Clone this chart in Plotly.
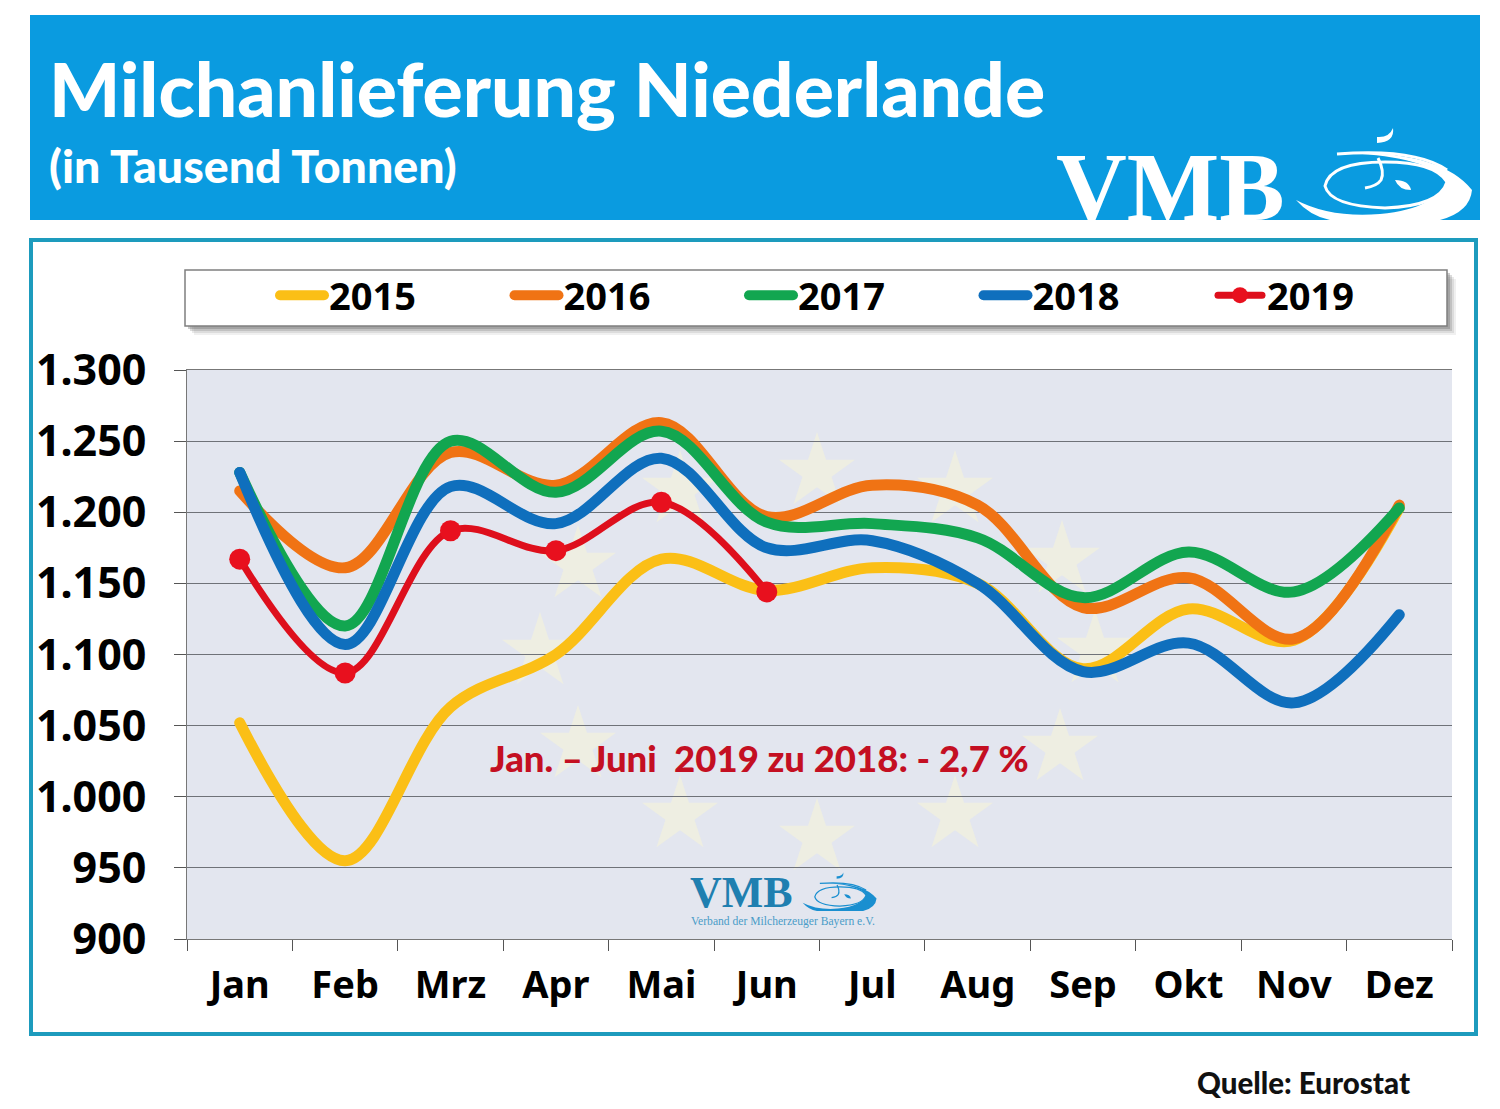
import plotly.graph_objects as go

W = 1500
H = 1109

months = ["Jan", "Feb", "Mrz", "Apr", "Mai", "Jun", "Jul", "Aug", "Sep", "Okt", "Nov", "Dez"]
v2015 = [1052, 955, 1063, 1100, 1167, 1145, 1161, 1150, 1090, 1132, 1110, 1203]
v2016 = [1215, 1161, 1242, 1219, 1263, 1197, 1219, 1205, 1133, 1154, 1111, 1205]
v2017 = [1228, 1120, 1250, 1214, 1257, 1193, 1192, 1182, 1140, 1172, 1144, 1203]
v2018 = [1228, 1107, 1218, 1192, 1238, 1175, 1180, 1150, 1088, 1108, 1066, 1128]
v2019 = [1167, 1087, 1187, 1173, 1207, 1144]
y_ticks = [900, 950, 1000, 1050, 1100, 1150, 1200, 1250, 1300]

star_centers = [(817, 472), (955, 490), (1062, 560), (1095, 650), (1060, 748), (955, 815),
                (817, 838), (680, 815), (578, 745), (540, 652), (578, 565), (680, 490)]

BLUE = "#0a9be0"
TEAL = "#1d9bbd"
TEXT_FONT = "Lato"
AXIS_FONT = "Noto Sans"


def px(x):
    return x / W


def py(y):
    return 1 - y / H


def path(points):
    """Closed or open svg path from pixel commands, e.g. [('M', 1, 2), ('Q', 1, 2, 3, 4)]."""
    out = []
    for cmd in points:
        if cmd[0] == "Z":
            out.append("Z")
            continue
        coords = []
        for i in range(1, len(cmd), 2):
            coords.append(f"{px(cmd[i]):.5f},{py(cmd[i + 1]):.5f}")
        out.append(cmd[0] + " ".join(coords))
    return " ".join(out)


def rect(x0, y0, x1, y1, **kw):
    return dict(type="rect", xref="paper", yref="paper", x0=px(x0), x1=px(x1), y0=py(y0), y1=py(y1),
                layer="below", **kw)


def star_path(cx, cy, r):
    # five pointed star, pixel space
    outer = [(0, -1), (0.951, -0.309), (0.588, 0.809), (-0.588, 0.809), (-0.951, -0.309)]
    inner = [(0.225, -0.309), (0.363, 0.118), (0, 0.382), (-0.363, 0.118), (-0.225, -0.309)]
    cmds = []
    for i in range(5):
        cmds.append(("M" if i == 0 else "L", cx + outer[i][0] * r, cy + outer[i][1] * r))
        cmds.append(("L", cx + inner[i][0] * r, cy + inner[i][1] * r))
    cmds.append(("Z",))
    return path(cmds)


def logo_shapes(ox, oy, s, color, bg):
    # swoosh of the VMB logo, drawn around origin ox/oy
    def p(x, y):
        return ox + x * s, oy + y * s

    shapes = []
    fill = [
        ("M", *p(-45, -31)), ("Q", *p(55, -34), *p(87, 6)), ("Q", *p(85, 28), *p(55, 36)),
        ("L", *p(-55, 36)), ("Q", *p(-75, 32), *p(-89, 16)), ("Q", *p(-55, 34), *p(-5, 30)),
        ("Q", *p(55, 24), *p(60, -6)), ("Q", *p(35, -29), *p(-45, -31)), ("Z",),
    ]
    shapes.append(dict(type="path", xref="paper", yref="paper", path=path(fill),
                       fillcolor=color, line_width=0, layer="below"))
    ring = [
        ("M", *p(-60, 2)), ("Q", *p(-55, -22), *p(0, -22)), ("Q", *p(50, -22), *p(62, -2)),
        ("Q", *p(55, 22), *p(0, 24)), ("Q", *p(-55, 22), *p(-60, 2)), ("Z",),
    ]
    shapes.append(dict(type="path", xref="paper", yref="paper", path=path(ring),
                       fillcolor=bg, line=dict(color=color, width=max(1, 3 * s)), layer="below"))
    shapes.append(dict(type="path", xref="paper", yref="paper", layer="below", fillcolor="rgba(0,0,0,0)",
                       path=path([("M", *p(-48, -30)), ("Q", *p(30, -36), *p(62, -14))]),
                       line=dict(color=color, width=max(1, 3 * s))))
    # note glyph in the middle
    shapes.append(dict(type="path", xref="paper", yref="paper", layer="below", fillcolor="rgba(0,0,0,0)",
                       path=path([("M", *p(-7, -26)), ("Q", *p(0, -12), *p(-4, -4)), ("Q", *p(-8, 2), *p(-20, 4))]),
                       line=dict(color=color, width=max(1, 3 * s))))
    shapes.append(dict(type="path", xref="paper", yref="paper", layer="below", fillcolor=color, line_width=0,
                       path=path([("M", *p(10, -4)), ("Q", *p(24, -4), *p(26, 6)), ("Q", *p(14, 6), *p(10, -4)), ("Z",)])))
    shapes.append(dict(type="path", xref="paper", yref="paper", layer="below", fillcolor=color, line_width=0,
                       path=path([("M", *p(-8, -47)), ("Q", *p(4, -46), *p(8, -56)), ("Q", *p(10, -42), *p(-8, -41)), ("Z",)])))
    return shapes


shapes = [
    rect(30, 15, 1480, 220, fillcolor=BLUE, line_width=0),
    rect(31, 240, 1476, 1034, fillcolor="white", line=dict(color=TEAL, width=4)),
    rect(187, 370, 1452, 939, fillcolor="#e3e6ef", line_width=0),
]
# legend box with soft shadow
for off, alpha in [(9, 0.10), (7, 0.15), (5, 0.25), (3, 0.35)]:
    shapes.append(rect(185 + off, 270 + off, 1447 + off, 326 + off, fillcolor=f"rgba(110,110,110,{alpha})", line_width=0))
shapes.append(rect(185, 270, 1447, 326, fillcolor="white", line=dict(color="#7f7f7f", width=1.5)))
for cx, cy in star_centers:
    shapes.append(dict(type="path", xref="paper", yref="paper", layer="below", path=star_path(cx, cy, 40),
                       fillcolor="#eeeee2", line_width=0))
shapes += logo_shapes(1385, 184, 1.0, "white", BLUE)
shapes += logo_shapes(840, 896, 0.42, "#1a8fd0", "#e3e6ef")

annotations = [
    dict(text="Milchanlieferung Niederlande", x=px(47), y=py(88), font=dict(family=TEXT_FONT, size=75, color="white", weight=900)),
    dict(text="(in Tausend Tonnen)", x=px(47), y=py(165), font=dict(family=TEXT_FONT, size=46.5, color="white", weight=900)),
    dict(text="<b>VMB</b>", x=px(1054), y=py(187), font=dict(family="Liberation Serif", size=98, color="white")),
    dict(text="Jan. – Juni  2019 zu 2018: - 2,7 %", x=px(488), y=py(758), font=dict(family=TEXT_FONT, size=36.5, color="#c40f22", weight=900)),
    dict(text="<b>VMB</b>", x=px(688), y=py(892), font=dict(family="Liberation Serif", size=44, color="#1f7fb0")),
    dict(text="Verband der Milcherzeuger Bayern e.V.", x=px(689), y=py(921), font=dict(family="Liberation Serif", size=11.6, color="#4a9cc8")),
    dict(text="Quelle: Eurostat", x=px(1195), y=py(1082), font=dict(family=TEXT_FONT, size=29.5, color="#111111", weight=900)),
]
for a in annotations:
    a.update(xref="paper", yref="paper", xanchor="left", yanchor="middle", showarrow=False)

fig = go.Figure()
series = [("2015", v2015, "#fbbf16"), ("2016", v2016, "#f07314"), ("2017", v2017, "#12a650"), ("2018", v2018, "#0f6fbd")]
for name, vals, color in series:
    fig.add_trace(go.Scatter(x=months, y=vals, name=name, mode="lines",
                             line=dict(color=color, width=11, shape="spline", smoothing=1.0)))
fig.add_trace(go.Scatter(x=months[:len(v2019)], y=v2019, name="2019", mode="lines+markers",
                         line=dict(color="#de0f1c", width=7, shape="spline", smoothing=1.0),
                         marker=dict(color="#e8101e", size=21)))

fig.update_layout(
    width=W,
    height=H,
    margin=dict(l=0, r=0, t=0, b=0, autoexpand=False),
    paper_bgcolor="white",
    plot_bgcolor="rgba(0,0,0,0)",
    separators=",.",
    shapes=shapes,
    annotations=annotations,
    legend=dict(
        orientation="h",
        x=px(275),
        y=py(295.5),
        xanchor="left",
        yanchor="middle",
        itemwidth=44,
        entrywidth=175.5,
        entrywidthmode="pixels",
        bgcolor="rgba(0,0,0,0)",
        font=dict(family=AXIS_FONT, size=38, color="black", weight="bold"),
        traceorder="normal",
        itemclick=False,
    ),
    xaxis=dict(
        domain=[px(187), px(1452)],
        type="category",
        categoryorder="array",
        categoryarray=months,
        range=[-0.5, 11.5],
        tickson="boundaries",
        ticks="outside",
        ticklen=11,
        tickcolor="#555555",
        showgrid=False,
        showline=True,
        mirror=True,
        linecolor="#777777",
        ticklabelstandoff=12,
        tickfont=dict(family=AXIS_FONT, size=38, color="black", weight="bold"),
    ),
    yaxis=dict(
        domain=[py(939), py(370)],
        range=[900, 1300],
        tickvals=y_ticks,
        tickformat=",d",
        ticks="outside",
        ticklen=12,
        tickcolor="#555555",
        showgrid=True,
        gridcolor="#6f7278",
        gridwidth=1.2,
        showline=True,
        linecolor="#777777",
        zeroline=False,
        ticklabelstandoff=19,
        tickfont=dict(family=AXIS_FONT, size=43, color="black", weight="bold"),
    ),
)

# round line ends as in the original, and no page margin around the figure
post = """
document.body.style.margin='0';
document.body.style.overflow='hidden';
var st = document.createElement('style');
st.textContent = '.js-line, .legendlines path {stroke-linecap: round;}';
document.head.appendChild(st);
"""
fig.write_html("out.html", config=dict(displayModeBar=False), post_script=post)
